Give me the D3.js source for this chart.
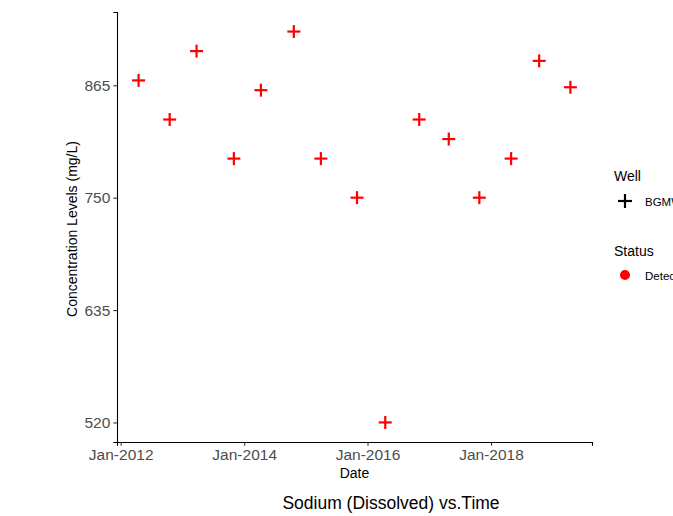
<!DOCTYPE html>
<html>
<head>
<meta charset="utf-8">
<script src="https://cdn.jsdelivr.net/npm/d3@7"></script>
<style>
  html, body { margin: 0; padding: 0; background: #fff; }
  svg { display: block; font-family: "Liberation Sans", Arial, sans-serif; }
</style>
</head>
<body>
<svg id="chart" width="673" height="516"></svg>
<script>
// Sodium (dissolved) sampling results for one well
const sampleDates = [
  "2012-04-16", "2012-10-17", "2013-03-25", "2013-11-01", "2014-04-10",
  "2014-10-22", "2015-03-31", "2015-10-31", "2016-04-15", "2016-11-02",
  "2017-04-26", "2017-10-24", "2018-04-30", "2018-10-13", "2019-04-16"
];
const sodiumValues = [870, 830, 900, 790, 860, 920, 790, 750, 520, 830, 810, 750, 790, 890, 863];
const yTickValues = [520, 635, 750, 865];
const xTickDates = ["2012-01-01", "2014-01-01", "2016-01-01", "2018-01-01"];
const wellNames = ["BGMW-04"];
const statusNames = ["Detected"];

const parseDate = d3.timeParse("%Y-%m-%d");
const data = sampleDates.map((d, i) => ({ date: parseDate(d), value: sodiumValues[i] }));

const svg = d3.select("#chart");
const panel = { left: 117, right: 592, top: 12, bottom: 442 };

// ggplot-style 5% expansion on both axes
function expand(ext) {
  const pad = (ext[1] - ext[0]) * 0.05;
  return [ext[0] - pad, ext[1] + pad];
}
const xExt = d3.extent(data, d => +d.date);
const xDom = expand(xExt).map(t => new Date(t));
const yDom = expand(d3.extent(data, d => d.value));

const x = d3.scaleTime().domain(xDom).range([panel.left, panel.right]);
const y = d3.scaleLinear().domain(yDom).range([panel.bottom, panel.top]);

const fmt = d3.timeFormat("%b-%Y");

// x axis
const xAxis = svg.append("g")
  .attr("transform", `translate(0,${panel.bottom})`)
  .call(d3.axisBottom(x).tickValues(xTickDates.map(parseDate)).tickFormat(fmt).tickSizeOuter(0).tickSize(3.7).tickPadding(3));
xAxis.select(".domain").attr("stroke", "#000").attr("stroke-width", 1.1);
xAxis.selectAll(".tick line").attr("stroke", "#333").attr("stroke-width", 1.1);
xAxis.selectAll(".tick text").attr("fill", "#4d4d4d").attr("font-size", 15.5);

// y axis
const yAxis = svg.append("g")
  .attr("transform", `translate(${panel.left},0)`)
  .call(d3.axisLeft(y).tickValues(yTickValues).tickSizeOuter(0).tickSize(3.7).tickPadding(3));
yAxis.select(".domain").attr("stroke", "#000").attr("stroke-width", 1.1);
yAxis.selectAll(".tick line").attr("stroke", "#333").attr("stroke-width", 1.1);
yAxis.selectAll(".tick text").attr("fill", "#4d4d4d").attr("font-size", 15.5);

// data points as crosses
const half = 6.5;
const pts = svg.append("g").selectAll("g.pt").data(data).join("g")
  .attr("transform", d => `translate(${x(d.date)},${y(d.value)})`);
pts.append("line").attr("x1", -half).attr("x2", half).attr("y1", 0).attr("y2", 0)
  .attr("stroke", "#ff0000").attr("stroke-width", 2.2);
pts.append("line").attr("x1", 0).attr("x2", 0).attr("y1", -half).attr("y2", half)
  .attr("stroke", "#ff0000").attr("stroke-width", 2.2);

// axis titles
svg.append("text").attr("x", (panel.left + panel.right) / 2).attr("y", 478)
  .attr("text-anchor", "middle").attr("font-size", 14).attr("fill", "#000").text("Date");
svg.append("text").attr("transform", `translate(77,${(panel.top + panel.bottom) / 2 + 2}) rotate(-90)`)
  .attr("text-anchor", "middle").attr("font-size", 14).attr("fill", "#000")
  .text("Concentration Levels (mg/L)");

// caption title
svg.append("text").attr("x", 391).attr("y", 509)
  .attr("text-anchor", "middle").attr("font-size", 17.5).attr("fill", "#000")
  .text("Sodium (Dissolved) vs.Time");

// legends
const lg = svg.append("g");
lg.append("text").attr("x", 614).attr("y", 181).attr("font-size", 14).text("Well");
lg.selectAll("g.well").data(wellNames).join("g").attr("class", "well")
  .attr("transform", (d, i) => `translate(625,${201 + i * 18})`)
  .each(function (d) {
    const g = d3.select(this);
    g.append("line").attr("x1", -7).attr("x2", 7).attr("stroke", "#000").attr("stroke-width", 2.2);
    g.append("line").attr("y1", -7).attr("y2", 7).attr("stroke", "#000").attr("stroke-width", 2.2);
    g.append("text").attr("x", 20).attr("y", 4.5).attr("font-size", 11.5).text(d);
  });
lg.append("text").attr("x", 614).attr("y", 256).attr("font-size", 14).text("Status");
lg.selectAll("g.status").data(statusNames).join("g").attr("class", "status")
  .attr("transform", (d, i) => `translate(625,${275 + i * 18})`)
  .each(function (d) {
    const g = d3.select(this);
    g.append("circle").attr("r", 5).attr("fill", "#ff0000");
    g.append("text").attr("x", 20).attr("y", 4.5).attr("font-size", 11.5).text(d);
  });
</script>
</body>
</html>
